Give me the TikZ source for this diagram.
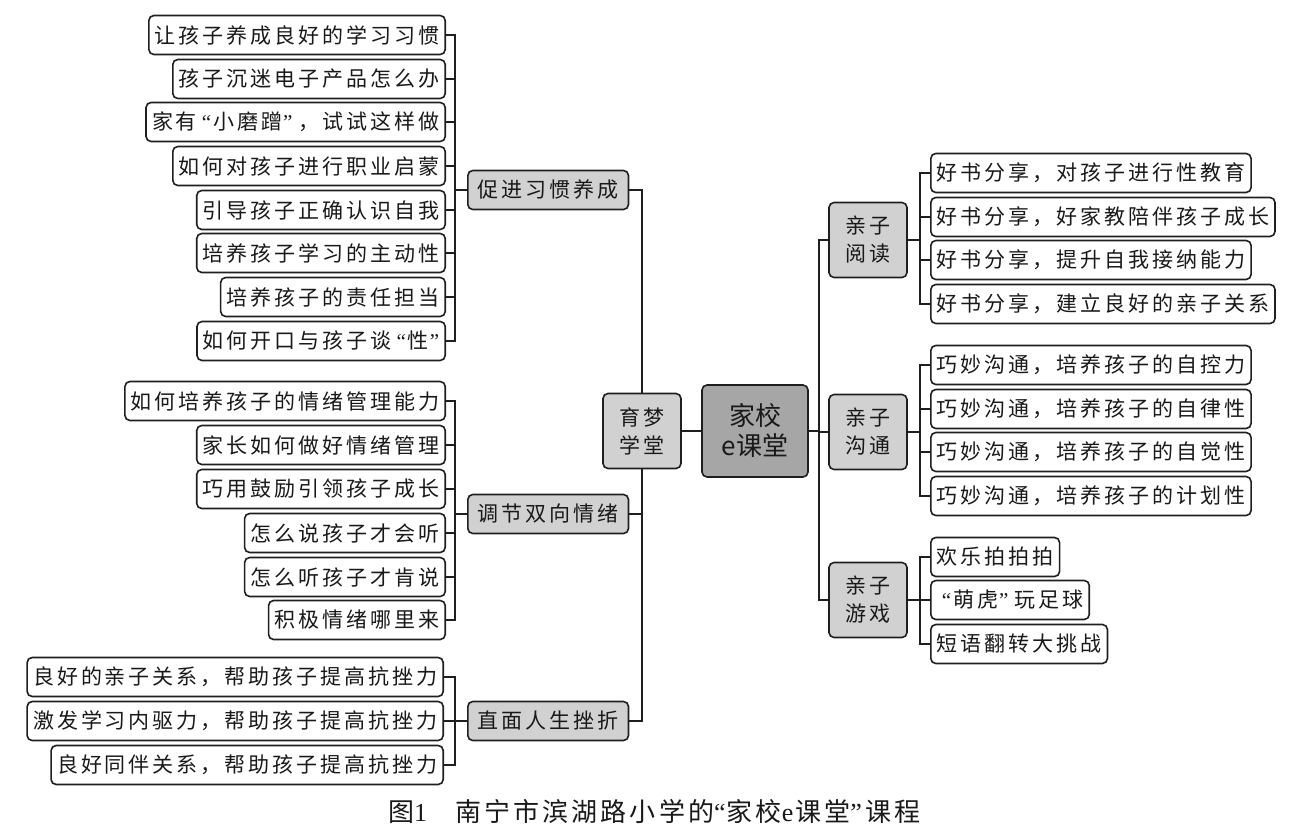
\documentclass[tikz,border=0pt]{standalone}
\usepackage{fontspec}
\newfontfamily\cjk[LetterSpace=14]{Noto Sans CJK SC}
\newfontfamily\cjkplain{Noto Sans CJK SC}
\newfontfamily\capcjk[LetterSpace=12]{Noto Sans CJK SC}
\newfontfamily\qf{Liberation Serif}
\newcommand\myoq{\hspace{5pt}{\qf “}\hspace{2pt}}
\newcommand\mycq{\hspace{1pt}{\qf ”}\hspace{6pt}}
\newcommand\capoq{{\qf “}\hspace{1pt}}
\newcommand\capcq{{\qf ”}\hspace{3pt}}
\begin{document}
\begin{tikzpicture}[x=1pt,y=-1pt,
 leaf/.style={draw=black!88, line width=1.6pt, rounded corners=5pt, fill=white, minimum height=39pt, inner xsep=6pt, inner ysep=0pt, text=black!90, font=\cjk\fontsize{21}{24}\selectfont},
 mid/.style={leaf, fill=black!18, inner xsep=10pt},
 dual/.style={leaf, fill=black!18, minimum width=78pt, minimum height=75pt, align=center, inner xsep=4pt, font=\cjk\fontsize{21}{28}\selectfont},
 hub/.style={leaf, fill=black!35, minimum width=106pt, minimum height=92pt, align=center, font=\cjkplain\fontsize{26}{30}\selectfont},
 link/.style={draw=black!88, line width=1.6pt}]
\useasboundingbox (0,0) rectangle (1299,835);
% left group 1
\node[leaf, anchor=east] (a1) at (446,35) {让孩子养成良好的学习习惯};
\node[leaf, anchor=east] (a2) at (446,79) {孩子沉迷电子产品怎么办};
\node[leaf, anchor=east] (a3) at (446,122) {家有\myoq 小磨蹭\mycq ，试试这样做};
\node[leaf, anchor=east] (a4) at (446,166) {如何对孩子进行职业启蒙};
\node[leaf, anchor=east] (a5) at (446,210) {引导孩子正确认识自我};
\node[leaf, anchor=east] (a6) at (446,253) {培养孩子学习的主动性};
\node[leaf, anchor=east] (a7) at (446,297) {培养孩子的责任担当};
\node[leaf, anchor=east] (a8) at (446,341) {如何开口与孩子谈\myoq 性\mycq};
% left group 2
\node[leaf, anchor=east] (b1) at (446,401) {如何培养孩子的情绪管理能力};
\node[leaf, anchor=east] (b2) at (446,445) {家长如何做好情绪管理};
\node[leaf, anchor=east] (b3) at (446,489) {巧用鼓励引领孩子成长};
\node[leaf, anchor=east] (b4) at (446,533) {怎么说孩子才会听};
\node[leaf, anchor=east] (b5) at (446,577) {怎么听孩子才肯说};
\node[leaf, anchor=east] (b6) at (446,620) {积极情绪哪里来};
% left group 3
\node[leaf, anchor=east] (c1) at (444,677) {良好的亲子关系，帮助孩子提高抗挫力};
\node[leaf, anchor=east] (c2) at (444,721) {激发学习内驱力，帮助孩子提高抗挫力};
\node[leaf, anchor=east] (c3) at (444,765) {良好同伴关系，帮助孩子提高抗挫力};
% middle level
\node[mid, anchor=west] (g1) at (467,190) {促进习惯养成};
\node[mid, anchor=west] (g2) at (467,514) {调节双向情绪};
\node[mid, anchor=west] (g3) at (467,721) {直面人生挫折};
\node[dual] (ym) at (642,431) {育梦\\学堂};
\node[hub] (hub) at (755,431) {家校\\e课堂};
% right level
\node[dual] (r1) at (868,240) {亲子\\阅读};
\node[dual] (r2) at (868,432) {亲子\\沟通};
\node[dual] (r3) at (868,600) {亲子\\游戏};
% right leaves
\node[leaf, anchor=west] (d1) at (930,173) {好书分享，对孩子进行性教育};
\node[leaf, anchor=west] (d2) at (930,217) {好书分享，好家教陪伴孩子成长};
\node[leaf, anchor=west] (d3) at (930,260) {好书分享，提升自我接纳能力};
\node[leaf, anchor=west] (d4) at (930,304) {好书分享，建立良好的亲子关系};
\node[leaf, anchor=west] (e1) at (930,365) {巧妙沟通，培养孩子的自控力};
\node[leaf, anchor=west] (e2) at (930,409) {巧妙沟通，培养孩子的自律性};
\node[leaf, anchor=west] (e3) at (930,452) {巧妙沟通，培养孩子的自觉性};
\node[leaf, anchor=west] (e4) at (930,496) {巧妙沟通，培养孩子的计划性};
\node[leaf, anchor=west] (f1) at (930,557) {欢乐拍拍拍};
\node[leaf, anchor=west] (f2) at (930,600) {\myoq 萌虎\mycq 玩足球};
\node[leaf, anchor=west] (f3) at (930,644) {短语翻转大挑战};
% caption
\node[anchor=west, inner sep=0pt, text=black!90, font=\capcjk\fontsize{26}{28}\selectfont] (cap) at (388,812) {图{\qf 1}\hspace{28pt}南宁市滨湖路小学的\capoq 家校{\qf e}\hspace{2pt}课堂\capcq 课程};
% connectors
\foreach \c in {a1,a2,a3,a4,a5,a6,a7,a8} \draw[link] (g1.west) -- ++(-12,0) |- (\c.east);
\foreach \c in {b1,b2,b3,b4,b5,b6} \draw[link] (g2.west) -- ++(-12,0) |- (\c.east);
\foreach \c in {c1,c2,c3} \draw[link] (g3.west) -- ++(-12,0) |- (\c.east);
\draw[link] (ym.north) |- (g1.east);
\draw[link] (ym.south) |- (g2.east);
\draw[link] (ym.south) |- (g3.east);
\draw[link] (ym.east) -- (hub.west);
\foreach \c in {r1,r2,r3} \draw[link] (hub.east) -- ++(10,0) |- (\c.west);
\foreach \c in {d1,d2,d3,d4} \draw[link] (r1.east) -- ++(12,0) |- (\c.west);
\foreach \c in {e1,e2,e3,e4} \draw[link] (r2.east) -- ++(12,0) |- (\c.west);
\foreach \c in {f1,f2,f3} \draw[link] (r3.east) -- ++(12,0) |- (\c.west);
\end{tikzpicture}
\end{document}
